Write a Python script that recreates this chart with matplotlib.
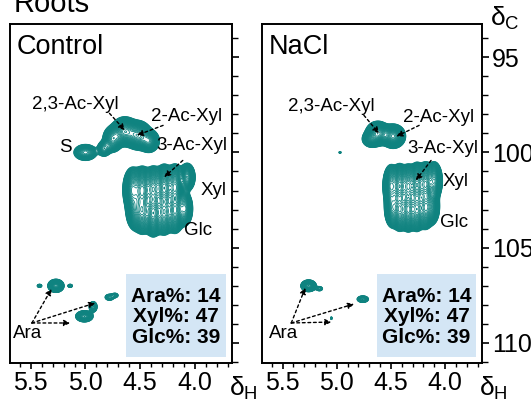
import numpy as np
import matplotlib
matplotlib.use('Agg')
import matplotlib.pyplot as plt
from matplotlib.patches import Rectangle

plt.rcParams['font.family'] = ['Liberation Sans', 'DejaVu Sans']

TEAL = '#0f8380'
BOX = '#d4e6f5'

# peak lists: 1H ppm, 13C ppm, height, width H, width C
ctrl_h = [5.00,
          4.64, 4.52, 4.42, 4.75, 4.83,
          4.57, 4.48, 4.38, 4.28, 4.18, 4.07,
          4.55, 4.48, 4.38, 4.28, 4.18, 4.09,
          5.27, 5.42, 5.14, 5.01, 4.93, 4.78, 4.73]
ctrl_c = [100.0,
          98.9, 99.1, 99.4, 99.3, 99.8,
          101.95, 101.95, 101.9, 101.85, 101.8, 101.3,
          103.0, 103.1, 103.2, 103.15, 103.05, 102.95,
          107.0, 107.0, 107.0, 108.6, 108.1, 107.6, 107.5]
ctrl_a = [10,
          30, 30, 20, 15, 8,
          28, 38, 30, 40, 32, 22,
          16, 30, 40, 30, 32, 18,
          25, 3, 3, 15, 6, 4, 3]
ctrl_wh = [0.05,
           0.05, 0.05, 0.04, 0.04, 0.03,
           0.035, 0.035, 0.035, 0.035, 0.035, 0.03,
           0.035, 0.035, 0.035, 0.035, 0.035, 0.03,
           0.03, 0.015, 0.015, 0.035, 0.02, 0.025, 0.02]
ctrl_wc = [0.2,
           0.3, 0.3, 0.25, 0.3, 0.2,
           0.46, 0.46, 0.46, 0.46, 0.46, 0.3,
           0.46, 0.46, 0.46, 0.46, 0.46, 0.38,
           0.14, 0.06, 0.06, 0.13, 0.15, 0.1, 0.08]

nacl_h = [4.97,
          4.62, 4.48, 4.68,
          4.50, 4.42, 4.34, 4.26, 4.18, 4.10,
          4.49, 4.42, 4.34, 4.26, 4.18, 4.12,
          5.26, 5.16, 4.76, 5.05]
nacl_c = [100.0,
          99.0, 99.15, 99.3,
          101.75, 101.75, 101.75, 101.7, 101.65, 101.5,
          102.9, 103.0, 103.0, 103.0, 102.9, 102.85,
          107.0, 107.15, 107.7, 108.7]
nacl_a = [1.8,
          30, 30, 10,
          26, 36, 30, 40, 34, 26,
          18, 30, 38, 32, 30, 16,
          20, 3, 5, 1.8]
nacl_wh = [0.01,
           0.045, 0.045, 0.04,
           0.03, 0.03, 0.03, 0.03, 0.03, 0.03,
           0.03, 0.03, 0.03, 0.03, 0.03, 0.03,
           0.03, 0.02, 0.03, 0.008]
nacl_wc = [0.05,
           0.25, 0.25, 0.2,
           0.44, 0.44, 0.44, 0.44, 0.44, 0.4,
           0.44, 0.44, 0.44, 0.44, 0.44, 0.4,
           0.13, 0.08, 0.1, 0.07]

ratio_labels = ['Ara%', 'Xyl%', 'Glc%']
ratio_ctrl = [14, 47, 39]
ratio_nacl = [14, 47, 39]

h_axis = np.linspace(5.75, 3.6, 500)
c_axis = np.linspace(92.5, 111.5, 800)
H, C = np.meshgrid(h_axis, c_axis)


def spectrum(ph, pc, pa, wh, wc):
    z = np.zeros_like(H)
    for h, c, a, sh, sc in zip(ph, pc, pa, wh, wc):
        z += a * np.exp(-((H - h) ** 2 / (2 * sh ** 2) + (C - c) ** 2 / (2 * sc ** 2)))
    return z


levels = np.geomspace(1.0, 60, 45)

fig = plt.figure(figsize=(5.31, 4.0), dpi=100)
ax1 = fig.add_axes([10 / 531, 1 - 363 / 400, 222 / 531, 339 / 400])
ax2 = fig.add_axes([262 / 531, 1 - 363 / 400, 220 / 531, 339 / 400])

panels = [
    (ax1, 'Control', spectrum(ctrl_h, ctrl_c, ctrl_a, ctrl_wh, ctrl_wc), ratio_ctrl),
    (ax2, 'NaCl', spectrum(nacl_h, nacl_c, nacl_a, nacl_wh, nacl_wc), ratio_nacl),
]

for ax, name, z, ratios in panels:
    ax.contour(H, C, z, levels=levels, colors=TEAL, linewidths=0.6)
    ax.set_xlim(5.69, 3.66)
    ax.set_ylim(111.05, 93.26)
    ax.set_xticks([5.5, 5.0, 4.5, 4.0])
    ax.set_xticks(np.arange(3.7, 5.7, 0.1), minor=True)
    ax.set_xticklabels(['5.5', '5.0', '4.5', '4.0'])
    ax.set_yticks([95, 100, 105, 110])
    ax.set_yticks(np.arange(94, 112, 1), minor=True)
    ax.yaxis.tick_right()
    ax.tick_params(axis='x', which='major', direction='out', length=4, width=1.2, labelsize=18, pad=2)
    ax.tick_params(axis='x', which='minor', direction='out', length=3, width=1.0)
    ax.tick_params(axis='y', which='major', direction='out', length=5, width=1.2, labelsize=18, pad=2)
    ax.tick_params(axis='y', which='minor', direction='out', length=4, width=1.0)
    for s in ax.spines.values():
        s.set_linewidth(1.4)
    ax.text(0.03, 0.97, name, transform=ax.transAxes, fontsize=19.5, va='top', ha='left')
    ax.add_patch(Rectangle((0.522, 0.018), 0.451, 0.245, transform=ax.transAxes,
                           facecolor=BOX, edgecolor='none', zorder=3))
    txt = '\n'.join(f'{l}: {v}' for l, v in zip(ratio_labels, ratios))
    ax.text(0.7475, 0.136, txt, transform=ax.transAxes, fontsize=15, fontweight='bold',
            ha='center', va='center', linespacing=1.1, zorder=4)
    ax.text(0.985, -0.075, r'$\mathregular{δ_H}$', transform=ax.transAxes, fontsize=19,
            ha='left', va='center')

ax1.tick_params(axis='y', labelright=False)

arrow = dict(arrowstyle='-|>', linestyle=(0, (2, 2)), color='black', lw=1.0,
             mutation_scale=9, shrinkA=0, shrinkB=0)
fs = 13.5

# Control labels
ax1.text(5.09, 97.47, '2,3-Ac-Xyl', fontsize=fs, ha='center', va='center')
ax1.annotate('', xy=(4.64, 98.84), xytext=(4.78, 97.95), arrowprops=arrow)
ax1.text(4.08, 98.1, '2-Ac-Xyl', fontsize=fs, ha='center', va='center')
ax1.annotate('', xy=(4.53, 99.1), xytext=(4.29, 98.58), arrowprops=arrow)
ax1.text(5.18, 99.74, 'S', fontsize=fs, ha='center', va='center')
ax1.text(4.03, 99.63, '3-Ac-Xyl', fontsize=fs, ha='center', va='center')
ax1.annotate('', xy=(4.28, 101.3), xytext=(4.11, 100.42), arrowprops=arrow)
ax1.text(3.83, 102.0, 'Xyl', fontsize=fs, ha='center', va='center')
ax1.text(3.97, 104.1, 'Glc', fontsize=fs, ha='center', va='center')
ax1.text(5.53, 109.5, 'Ara', fontsize=fs, ha='center', va='center')
for xy in [(5.31, 107.16), (5.14, 108.95), (4.91, 107.9)]:
    ax1.annotate('', xy=xy, xytext=(5.49, 108.95), arrowprops=arrow)

# NaCl labels
ax2.text(5.05, 97.58, '2,3-Ac-Xyl', fontsize=fs, ha='center', va='center')
ax2.annotate('', xy=(4.61, 99.0), xytext=(4.75, 98.05), arrowprops=arrow)
ax2.text(4.06, 98.16, '2-Ac-Xyl', fontsize=fs, ha='center', va='center')
ax2.annotate('', xy=(4.45, 99.16), xytext=(4.24, 98.58), arrowprops=arrow)
ax2.text(4.02, 99.79, '3-Ac-Xyl', fontsize=fs, ha='center', va='center')
ax2.annotate('', xy=(4.27, 101.47), xytext=(4.13, 100.42), arrowprops=arrow)
ax2.text(3.90, 101.5, 'Xyl', fontsize=fs, ha='center', va='center')
ax2.text(3.92, 103.7, 'Glc', fontsize=fs, ha='center', va='center')
ax2.text(5.49, 109.5, 'Ara', fontsize=fs, ha='center', va='center')
for xy in [(5.29, 107.1), (5.05, 108.9), (4.84, 107.95)]:
    ax2.annotate('', xy=xy, xytext=(5.42, 108.95), arrowprops=arrow)

fig.text(490 / 531, 1 - 18 / 400, r'$\mathregular{δ_C}$', fontsize=19, ha='left', va='center')
fig.text(14 / 531, 1 - 12 / 400, 'Roots', fontsize=21, ha='left', va='baseline')

fig.savefig('out.png', dpi=100)
